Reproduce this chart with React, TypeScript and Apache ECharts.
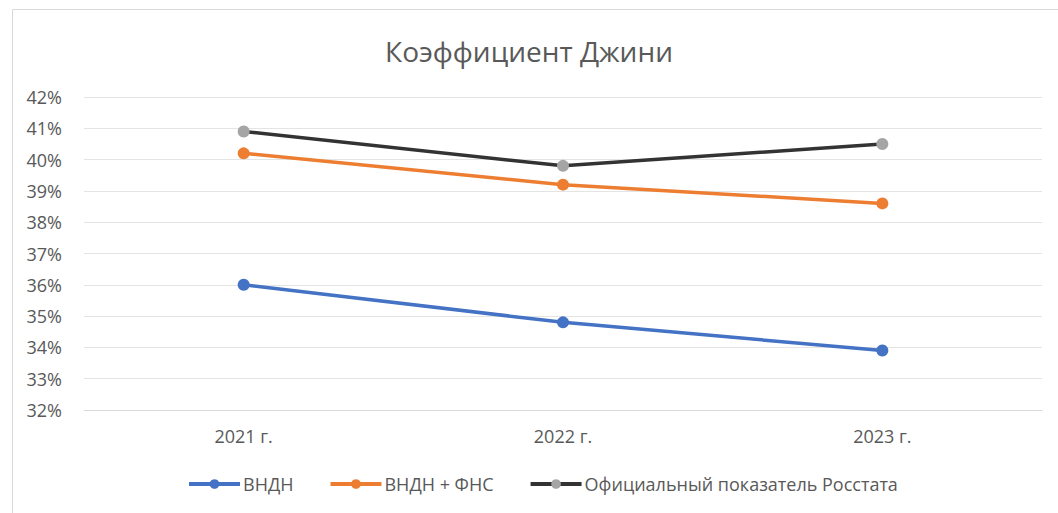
import React, { useEffect, useRef } from "react";
import * as echarts from "echarts";

const categories = ["2021 г.", "2022 г.", "2023 г."];
const seriesNames = ["ВНДН", "ВНДН + ФНС", "Официальный показатель Росстата"];
const vndn = [0.36, 0.348, 0.339];
const vndnFns = [0.402, 0.392, 0.386];
const rosstat = [0.409, 0.398, 0.405];
const lineColors = ["#4472C4", "#ED7D31", "#333333"];
const markerColors = ["#4472C4", "#ED7D31", "#A5A5A5"];

export default function App() {
  const ref = useRef<HTMLDivElement>(null);
  useEffect(() => {
    if (!ref.current) return;
    const chart = echarts.init(ref.current, undefined, { renderer: "svg" });
    const values = [vndn, vndnFns, rosstat];
    chart.setOption({
      animation: false,
      backgroundColor: "#ffffff",
      title: {
        text: "Коэффициент Джини",
        left: "center",
        top: 32,
        textStyle: { fontFamily: "Open Sans", fontSize: 28, fontWeight: "normal", color: "#595959" },
      },
      graphic: [
        {
          type: "rect",
          shape: { x: 12.5, y: 9.5, width: 1100, height: 600 },
          style: { fill: "none", stroke: "#D9D9D9", lineWidth: 1 },
          silent: true,
        },
      ],
      legend: {
        bottom: 15,
        left: 182,
        itemWidth: 51,
        itemHeight: 12,
        itemGap: 35,
        lineStyle: { width: 4 },
        textStyle: { fontFamily: "Open Sans", fontSize: 18, color: "#595959", padding: [0, 0, 0, -2] },
        data: seriesNames,
      },
      grid: { left: 84, right: 16, top: 97, bottom: 103, containLabel: false },
      xAxis: {
        type: "category",
        data: categories,
        boundaryGap: true,
        axisLine: { show: true, lineStyle: { color: "#D9D9D9", width: 1 } },
        axisTick: { show: false },
        axisLabel: { fontFamily: "Open Sans", fontSize: 18, color: "#595959", margin: 17 },
      },
      yAxis: {
        type: "value",
        min: 0.32,
        max: 0.42,
        interval: 0.01,
        axisLine: { show: false },
        axisTick: { show: false },
        splitLine: { lineStyle: { color: "#E4E4E4", width: 1 } },
        axisLabel: {
          fontFamily: "Open Sans",
          fontSize: 18,
          color: "#595959",
          margin: 22,
          formatter: (v: number) => Math.round(v * 100) + "%",
        },
      },
      series: seriesNames.map((name, i) => ({
        name,
        type: "line",
        data: values[i],
        symbol: "circle",
        symbolSize: 12,
        lineStyle: { color: lineColors[i], width: 3.5 },
        itemStyle: { color: markerColors[i], borderWidth: 0 },
      })),
    });
    return () => chart.dispose();
  }, []);
  return (
    <div
      ref={ref}
      style={{ position: "absolute", left: 0, top: 0, width: 1058, height: 513 }}
    />
  );
}
